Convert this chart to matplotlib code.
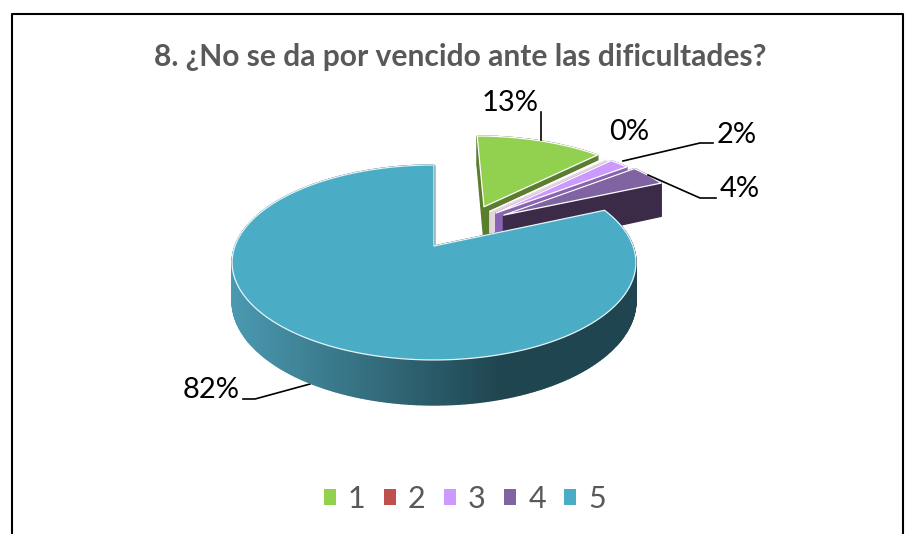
import numpy as np
import matplotlib
matplotlib.use("Agg")
import matplotlib.pyplot as plt
from matplotlib.patches import Patch
from matplotlib.colors import to_rgb

TITLE = "8. ¿No se da por vencido ante las dificultades?"
categories = ["1", "2", "3", "4", "5"]
values = [12.6, 0.2, 1.9, 3.7, 81.6]
top_colors = ["#92d050", "#c0504d", "#cc99ff", "#8064a2", "#4bacc6"]
side_colors = ["#5a7d2e", "#e4d4dc", "#8a63b5", "#3b2a48", None]
# slice displacement on the pie plane, in radius units
offsets = [(0.27, 0.445), (0.30, 0.39), (0.33, 0.37), (0.37, 0.345), (0.0, 0.0)]

plt.rcParams["font.family"] = ["Lato", "DejaVu Sans"]
fig = plt.figure(figsize=(9.1, 5.34), dpi=100, facecolor="white")
ax = fig.add_axes([0, 0, 1, 1])
ax.set_xlim(0, 910)
ax.set_ylim(534, 0)
ax.axis("off")

CX, CY = 434.0, 246.0
K, SX, SY, DEPTH = 0.169, 199.0, 94.7, 37.4


def project(x, y):
    w = 1 + K * y
    return CX + SX * x / w, CY - SY * y / w, DEPTH / w


def mix(a, b, t):
    a, b = np.array(to_rgb(a)), np.array(to_rgb(b))
    return tuple(a + (b - a) * t)


def side_color(i, sx):
    if side_colors[i] is not None:
        return side_colors[i]
    t = np.clip((sx - 232) / (500 - 232), 0, 1)
    return mix("#4a99b0", "#1f4550", t)


angle = 90.0
total = sum(values)
for i, v in enumerate(values):
    span = v / total * 360
    th = np.radians(np.linspace(angle, angle - span, max(4, int(span * 1.5))))
    angle -= span
    ex, ey = offsets[i]
    xs = np.concatenate([[ex], ex + np.cos(th), [ex]])
    ys = np.concatenate([[ey], ey + np.sin(th), [ey]])
    px, py, d = project(xs, ys)
    for j in range(len(px) - 1):
        qx = [px[j], px[j + 1], px[j + 1], px[j]]
        qy = [py[j], py[j + 1], py[j + 1] + d[j + 1], py[j] + d[j]]
        c = side_color(i, (px[j] + px[j + 1]) / 2)
        ax.fill(qx, qy, facecolor=c, edgecolor=c, lw=1.0, zorder=2 + i)
    edge = "white" if i < 4 else "#e8f3f6"
    ax.fill(px, py, facecolor=top_colors[i], edgecolor=edge, lw=0.9,
            joinstyle="round", zorder=2.5 + i)

ax.text(460, 57, TITLE, ha="center", va="center", fontsize=21.6,
        fontweight="bold", color="#595959")

labels = [f"{v:.0f}%" for v in values]
label_pos = [(510, 103), (629, 132), (737, 135), (740, 189), (211, 390)]
for s, (x, y) in zip(labels, label_pos):
    ax.text(x, y, s, ha="center", va="center", fontsize=21, color="black", zorder=12)

leaders = [
    ([541, 541], [112, 140]),
    ([623, 700, 713], [161, 143, 143]),
    ([648, 700, 716], [175, 198, 198]),
    ([243, 255, 310], [399, 399, 384]),
]
for lx, ly in leaders:
    ax.plot(lx, ly, color="black", lw=1.2, zorder=1.5 if lx[0] == 243 else 11)

ax.plot([12, 12, 903, 903], [534, 13.5, 13.5, 534], color="black", lw=1.5, zorder=1)

handles = [Patch(facecolor=c, edgecolor="none", label=n) for c, n in zip(top_colors, categories)]
ax.legend(handles=handles, ncol=5, loc="center", bbox_to_anchor=(465 / 910, 1 - 499 / 534),
          frameon=False, fontsize=22, labelcolor="#595959", handlelength=0.39,
          handleheight=0.39, handletextpad=0.4, columnspacing=0.6)

fig.savefig("out.png", dpi=100, facecolor="white")
